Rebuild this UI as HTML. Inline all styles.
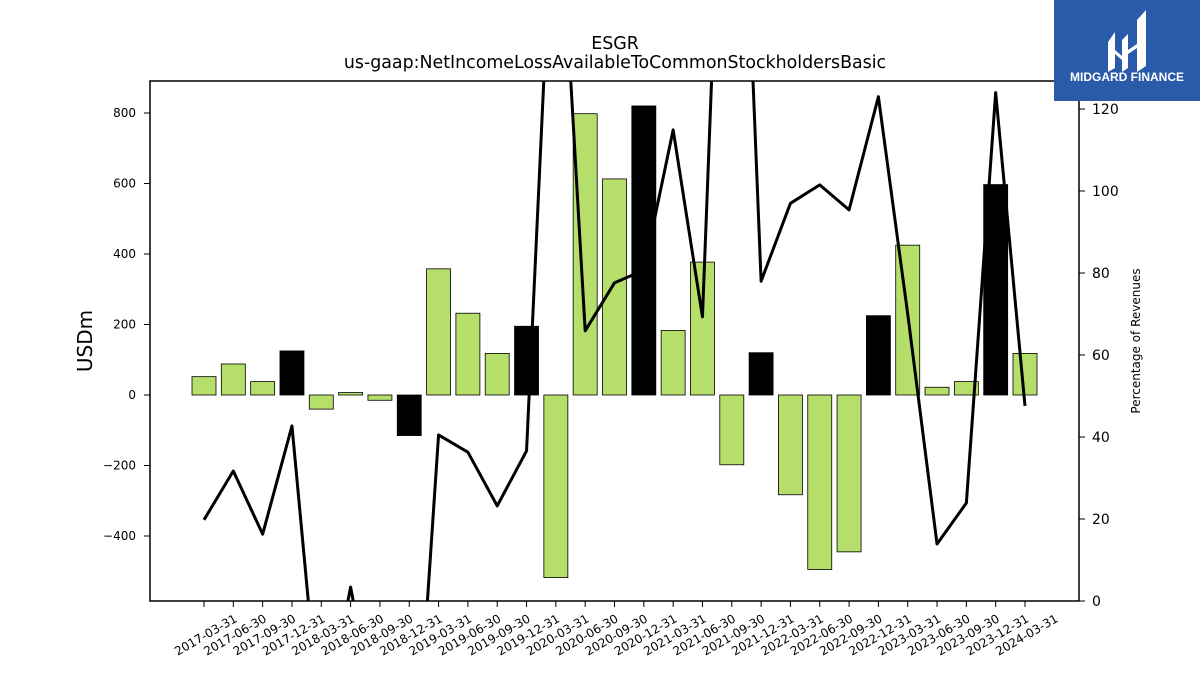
<!DOCTYPE html>
<html><head><meta charset="utf-8"><style>
html,body{margin:0;padding:0;background:#fff;width:1200px;height:675px;overflow:hidden;font-family:"Liberation Sans","DejaVu Sans",sans-serif}
svg{display:block}
</style></head><body>
<svg id="chart" width="1200" height="675" xmlns="http://www.w3.org/2000/svg">
<text x="615" y="49" text-anchor="middle" font-size="17.4" font-family="DejaVu Sans,sans-serif">ESGR</text>
<text x="615" y="68" text-anchor="middle" font-size="17.4" font-family="DejaVu Sans,sans-serif">us-gaap:NetIncomeLossAvailableToCommonStockholdersBasic</text>
<defs><clipPath id="pc"><rect x="150" y="81" width="929" height="520"/></clipPath></defs>
<g id="bars" clip-path="url(#pc)"></g>
<g id="line" clip-path="url(#pc)"></g>
<rect x="150" y="81" width="929" height="520" fill="none" stroke="#000" stroke-width="1.5"/>
<g id="axes" font-family="DejaVu Sans,sans-serif"></g>
<text transform="translate(92,341) rotate(-90)" text-anchor="middle" font-size="20" font-family="DejaVu Sans,sans-serif">USDm</text>
<text transform="translate(1140,341) rotate(-90)" text-anchor="middle" font-size="12" font-family="DejaVu Sans,sans-serif">Percentage of Revenues</text>
<g>
<rect x="1054" y="0" width="146" height="101" fill="#2a5aaa"/>
<path d="M1108 42 L1115 32 L1115 68 L1108 72 Z M1122 40 L1128 34 L1128 68 L1122 72 Z M1137 20 L1146 10 L1146 66 L1137 72 Z M1115 50 L1122 56 L1122 60 L1115 54 Z M1128 50 L1137 44 L1137 48 L1128 54 Z" fill="#fff"/>
<text x="1127" y="81" text-anchor="middle" font-size="12" font-weight="bold" fill="#fff">MIDGARD FINANCE</text>
</g>
</svg>
<script>
const categories=["2017-03-31","2017-06-30","2017-09-30","2017-12-31","2018-03-31","2018-06-30","2018-09-30","2018-12-31","2019-03-31","2019-06-30","2019-09-30","2019-12-31","2020-03-31","2020-06-30","2020-09-30","2020-12-31","2021-03-31","2021-06-30","2021-09-30","2021-12-31","2022-03-31","2022-06-30","2022-09-30","2022-12-31","2023-03-31","2023-06-30","2023-09-30","2023-12-31","2024-03-31"];
const netIncome=[52,88,38,125,-40,7,-15,-115,358,232,118,195,-518,798,613,820,183,377,-198,120,-283,-495,-445,225,425,22,38,597,118];
const pctRevenue=[19.8,31.7,16.3,42.7,-34,3.4,-35,-66,40.5,36.3,23.2,36.6,190,65.9,77.6,80.7,114.9,69.3,255,78,97,101.5,95.4,123,70,13.9,23.9,124,47.6];
const leftTicks=[-400,-200,0,200,400,600,800];
const rightTicks=[0,20,40,60,80,100,120];
const NS="http://www.w3.org/2000/svg";
const x=i=>204+i*(1025-204)/(categories.length-1);
const yL=v=>395-v*0.3525;
const yR=v=>601-v*4.1;
function mk(t,a,p){const e=document.createElementNS(NS,t);for(const k in a)e.setAttribute(k,a[k]);p.appendChild(e);return e;}
const bars=document.getElementById('bars'),line=document.getElementById('line'),axes=document.getElementById('axes');
netIncome.forEach((v,i)=>{
 const q4=categories[i].endsWith('12-31');
 const r=mk('rect',{x:x(i)-12,y:Math.min(yL(v),yL(0)),width:24,height:Math.abs(yL(v)-yL(0)),fill:q4?'#000':'#b5de6a',stroke:'#000','stroke-width':0.8},bars);
 
 
});
const pl=mk('polyline',{points:pctRevenue.map((v,i)=>x(i)+','+yR(v)).join(' '),fill:'none',stroke:'#000','stroke-width':3,'stroke-linejoin':'round'},line);


leftTicks.forEach(v=>{
 mk('line',{x1:144,x2:150,y1:yL(v),y2:yL(v),stroke:'#000'},axes);
 const t=mk('text',{x:136,y:yL(v)+4,'text-anchor':'end','font-size':12},axes);t.textContent=v<0?'\u2212'+(-v):v;
 
 
});
rightTicks.forEach(v=>{
 mk('line',{x1:1079,x2:1085,y1:yR(v),y2:yR(v),stroke:'#000'},axes);
 const t=mk('text',{x:1092,y:yR(v)+5,'font-size':14},axes);t.textContent=v;
 
 
});
categories.forEach((c,i)=>{
 mk('line',{x1:x(i),x2:x(i),y1:601,y2:607,stroke:'#000'},axes);
 const t=mk('text',{transform:`translate(${x(i)+34},${621}) rotate(-30)`,'text-anchor':'end','font-size':12},axes);t.textContent=c;
 
 
});
</script>
</body></html>
